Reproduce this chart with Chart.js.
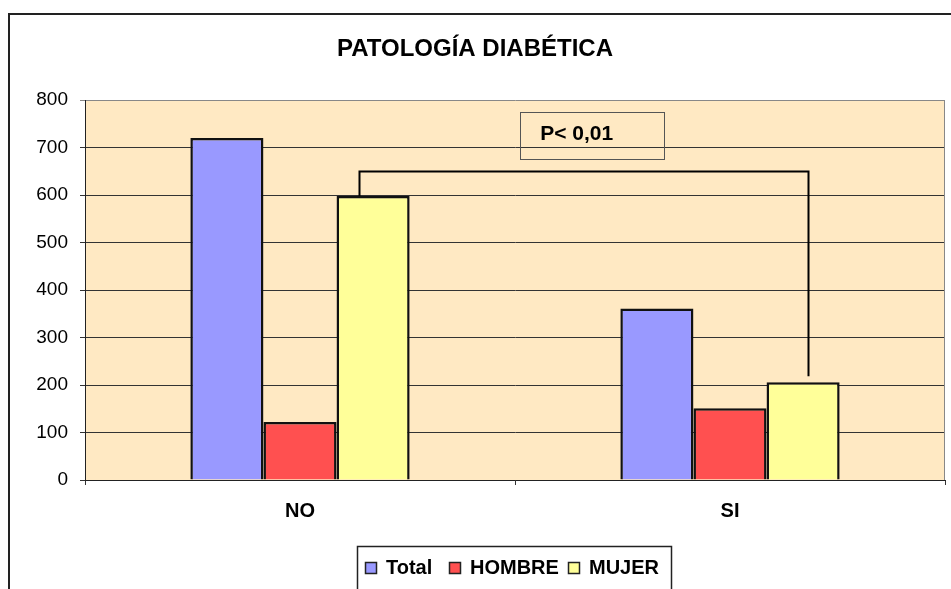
<!DOCTYPE html>
<html>
<head>
<meta charset="utf-8">
<script src="https://cdn.jsdelivr.net/npm/chart.js@4.4.0/dist/chart.umd.min.js"></script>
<style>
  html, body { margin: 0; padding: 0; background: #fff; }
  #wrap { width: 951px; height: 589px; }
</style>
</head>
<body>
<div id="wrap"><canvas id="diabChart" width="951" height="589"></canvas></div>
<script>
// chart values
const categories = ['NO', 'SI'];
const seriesNames = ['Total', 'HOMBRE', 'MUJER'];
const totalValues = [720, 361];
const hombreValues = [122, 151];
const mujerValues = [598, 206];
const yTicks = [0, 100, 200, 300, 400, 500, 600, 700, 800];
const bracketLevel = 650;
const pValueText = 'P< 0,01';
const titleText = 'PATOLOGÍA DIABÉTICA';

const seriesColors = ['#9999FF', '#FF5050', '#FFFF99'];
const FONT = "'Liberation Sans', Arial, sans-serif";

// background, border, bracket, p box, title and legend
const decorPlugin = {
    id: 'decor',
    beforeDraw(chart) {
        const ctx = chart.ctx;
        const a = chart.chartArea;
        ctx.save();
        ctx.fillStyle = '#fff';
        ctx.fillRect(0, 0, chart.width, chart.height);
        ctx.fillStyle = '#FFE9C3';
        ctx.fillRect(a.left, a.top, a.right - a.left, a.bottom - a.top);
        // outer frame
        ctx.strokeStyle = '#222';
        ctx.lineWidth = 2;
        ctx.beginPath();
        ctx.moveTo(9, chart.height + 5);
        ctx.lineTo(9, 14);
        ctx.lineTo(chart.width + 5, 14);
        ctx.stroke();
        ctx.restore();
    },
    afterDatasetsDraw(chart) {
        const ctx = chart.ctx;
        const a = chart.chartArea;
        const y = chart.scales.y;
        const mujer = chart.getDatasetMeta(2).data;
        ctx.save();
        // right edge of plot
        ctx.strokeStyle = '#888';
        ctx.lineWidth = 1;
        ctx.beginPath();
        ctx.moveTo(a.right - 0.5, a.top);
        ctx.lineTo(a.right - 0.5, a.bottom);
        ctx.stroke();

        // bracket between NO and SI (MUJER)
        const yTop = Math.round(y.getPixelForValue(bracketLevel)) + 0.5;
        const xL = Math.round(mujer[0].x - 14) + 0.5;
        const xR = Math.round(mujer[1].x + 5) + 0.5;
        ctx.strokeStyle = '#000';
        ctx.lineWidth = 2;
        ctx.beginPath();
        ctx.moveTo(xL, mujer[0].y);
        ctx.lineTo(xL, yTop);
        ctx.lineTo(xR, yTop);
        ctx.lineTo(xR, mujer[1].y - 6);
        ctx.stroke();

        // p-value box
        const bx = a.left + (a.right - a.left) * 0.506;
        const by = y.getPixelForValue(775);
        const bh = y.getPixelForValue(676) - by;
        ctx.strokeStyle = '#555';
        ctx.lineWidth = 1;
        ctx.strokeRect(Math.round(bx) + 0.5, Math.round(by) + 0.5, 144, Math.round(bh));
        ctx.fillStyle = '#000';
        ctx.font = 'bold 21px ' + FONT;
        ctx.textBaseline = 'middle';
        ctx.textAlign = 'left';
        ctx.fillText(pValueText, bx + 20, by + bh / 2 - 1);

        // title
        ctx.font = 'bold 24px ' + FONT;
        ctx.textAlign = 'center';
        ctx.fillText(titleText, 475, 49);

        // legend
        const lx = 357, ly = 546, lw = 314, lh = 44;
        ctx.fillStyle = '#fff';
        ctx.fillRect(lx, ly, lw, lh);
        ctx.strokeStyle = '#222';
        ctx.lineWidth = 1.5;
        ctx.strokeRect(lx + 0.5, ly + 0.5, lw, lh);
        ctx.font = 'bold 20px ' + FONT;
        ctx.textAlign = 'left';
        const itemX = [365, 449, 568];
        seriesNames.forEach((name, i) => {
            ctx.fillStyle = seriesColors[i];
            ctx.fillRect(itemX[i], 562, 11, 11);
            ctx.strokeStyle = '#222';
            ctx.lineWidth = 1.5;
            ctx.strokeRect(itemX[i] + 0.5, 562.5, 11, 11);
            ctx.fillStyle = '#000';
            ctx.fillText(name, itemX[i] + 21, 568);
        });
        ctx.restore();
    }
};

const ctx = document.getElementById('diabChart').getContext('2d');
const diabChart = new Chart(ctx, {
    type: 'bar',
    data: {
        labels: categories,
        datasets: [
            { label: seriesNames[0], data: totalValues, backgroundColor: seriesColors[0] },
            { label: seriesNames[1], data: hombreValues, backgroundColor: seriesColors[1] },
            { label: seriesNames[2], data: mujerValues, backgroundColor: seriesColors[2] }
        ].map(ds => Object.assign(ds, {
            borderColor: '#111',
            borderWidth: 2.5,
            categoryPercentage: 0.51,
            barPercentage: 1
        }))
    },
    options: {
        responsive: false,
        animation: false,
        layout: { padding: { left: 10, top: 100, right: 6, bottom: 0 } },
        plugins: {
            legend: { display: false },
            title: { display: false },
            tooltip: { enabled: false }
        },
        scales: {
            x: {
                afterFit: s => { s.height = 109; },
                grid: { drawOnChartArea: false, drawTicks: true, tickLength: 5, color: '#333', offset: true },
                border: { color: '#222', width: 1 },
                ticks: { color: '#000', font: { family: FONT, size: 20, weight: 'bold' }, padding: 14 }
            },
            y: {
                min: 0,
                max: 800,
                afterFit: s => { s.width = 75; },
                afterBuildTicks: s => { s.ticks = yTicks.map(v => ({ value: v })); },
                grid: {
                    color: c => c.tick && c.tick.value === 800 ? '#888' : '#333',
                    tickLength: 5,
                    lineWidth: 1
                },
                border: { color: '#222', width: 1 },
                ticks: { color: '#000', font: { family: FONT, size: 19 }, padding: 12 }
            }
        }
    },
    plugins: [decorPlugin]
});
</script>
</body>
</html>
